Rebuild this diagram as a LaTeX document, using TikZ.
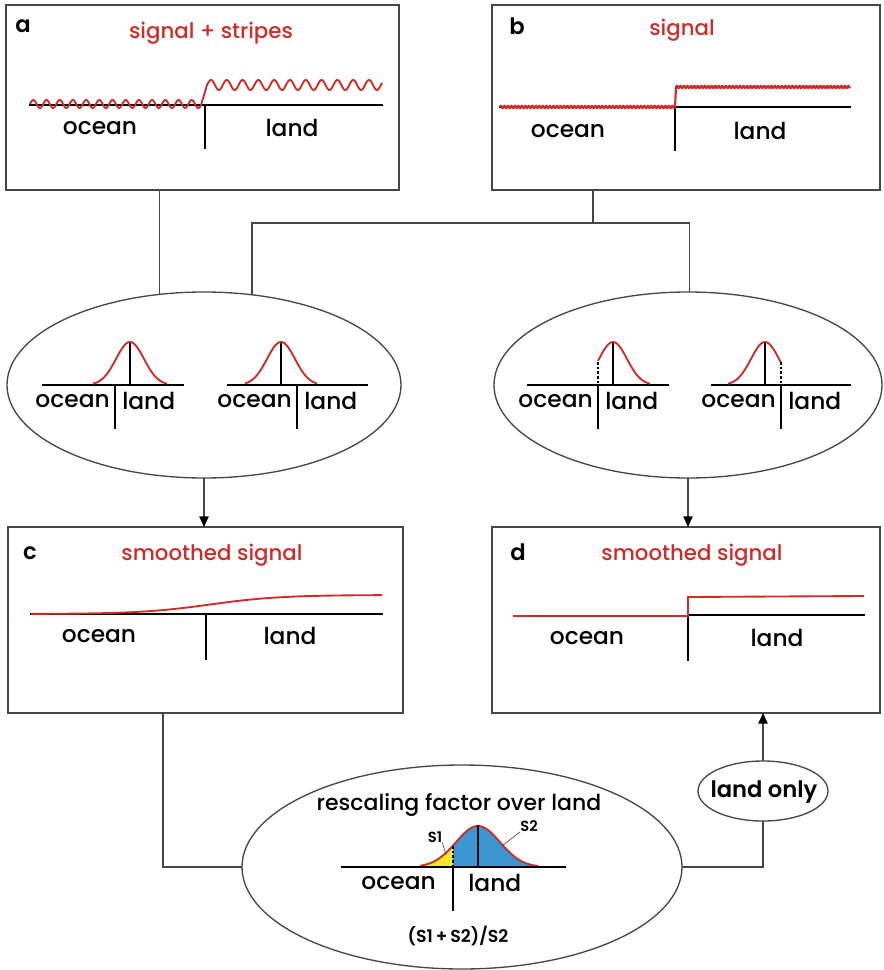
\documentclass[tikz,border=0pt]{standalone}
\usepackage{fontspec}
\setmainfont{Poppins}[UprightFont=* Medium,BoldFont=* SemiBold]
\usetikzlibrary{shapes.geometric,arrows.meta}
\definecolor{sigred}{RGB}{205,45,40}
\definecolor{framegray}{RGB}{70,70,70}
\definecolor{areablue}{RGB}{60,150,210}
\definecolor{areayellow}{RGB}{245,232,40}

\begin{document}
\begin{tikzpicture}[x=0.75pt,y=0.75pt,yscale=-1,xscale=1,
    box/.style={draw=framegray,line width=1.1pt,rectangle,inner sep=0pt,outer sep=0pt},
    oval/.style={draw=framegray,line width=1pt,ellipse,inner sep=0pt,outer sep=0pt},
    link/.style={draw=framegray,line width=1pt},
    arr/.style={link,-{Triangle[length=8pt,width=7pt,color=black]}},
    axis/.style={line width=1.8pt,line cap=rect},
    sig/.style={sigred,line width=1.4pt},
    word/.style={font=\fontsize{17.5}{20}\selectfont,inner sep=0pt},
    head/.style={font=\fontsize{16}{18}\selectfont,text=sigred,inner sep=0pt},
    tag/.style={font=\fontsize{17}{19}\selectfont\bfseries,inner sep=0pt},
    small/.style={font=\fontsize{11}{12}\selectfont\bfseries,inner sep=0pt}]
    \useasboundingbox (0,0) rectangle (884,970);

    % panels
    \node [box,minimum width=294.75pt,minimum height=138.75pt] (boxa) at (202.5,97.5) {};
    \node [box,minimum width=291pt,minimum height=138.75pt] (boxb) at (686,97.5) {};
    \node [box,minimum width=296.25pt,minimum height=139.5pt] (boxc) at (205.5,620) {};
    \node [box,minimum width=291pt,minimum height=139.5pt] (boxd) at (686,620) {};
    % ovals
    \node [oval,minimum width=295.5pt,minimum height=139.5pt] (ellL) at (204,385) {};
    \node [oval,minimum width=291pt,minimum height=139.5pt] (ellR) at (688,385) {};
    \node [oval,minimum width=330pt,minimum height=153pt] (ellB) at (462,867) {};
    \node [oval,minimum width=97.5pt,minimum height=45pt] (only) at (763,791) {};

    % connectors
    \coordinate (split) at (593,223);
    \coordinate (cdown) at (163,713);
    \draw [link] (boxa.south -| ellL.116) -- (ellL.116);
    \draw [link] (boxb.south -| split) -- (split);
    \draw [link] (ellL.62) |- (split) -| (ellR.89);
    \draw [arr] (ellL.south) -- (ellL.south |- boxc.north);
    \draw [arr] (ellR.south) -- (ellR.south |- boxd.north);
    \draw [link] (cdown) |- (ellB.west);
    \draw [link] (ellB.east) -| (only.south);
    \draw [arr] (only.north) -- (only.north |- boxd.south);

    % panel a
    \node [tag] (taga) at (23,26) {a};
    \node [head] (heada) at (211,33) {signal + stripes};
    \draw [axis] (30,105) -- (382,105) (205,105) -- (205,148);
    \draw [sig] plot[domain=30:201,samples=300] (\x,{104-4*sin(27.27*(\x-30))})
        -- (207,85) -- plot[domain=207:382,samples=300] (\x,{85-5*sin(22.78*(\x-207))});
    \node [word] (oceana) at (100,128) {ocean};
    \node [word] (landa) at (292,128) {land};

    % panel b
    \node [tag] (tagb) at (517,26) {b};
    \node [head] (headb) at (682,30) {signal};
    \draw [axis] (500,107) -- (850,107) (675,107) -- (675,150);
    \draw [sig,line width=1.6pt] plot[domain=500:675,samples=400] (\x,{107-1.1*sin(102.86*mod(\x-500,3.5))})
        -- (676,87) -- plot[domain=676:850,samples=400] (\x,{87-1.1*sin(102.86*mod(\x-676,3.5))});
    \node [word] (oceanb) at (568,131) {ocean};
    \node [word] (landb) at (760,131) {land};

    % left oval
    \draw [axis] (43,385) -- (183,385) (115,385) -- (115,428) (130,342) -- (130,385);
    \draw [sig] plot[domain=93:167,samples=80] (\x,{385-43*exp(-((\x-130)/14)*((\x-130)/14)/2)});
    \node [word,anchor=east] (oceanl1) at (110,401) {ocean};
    \node [word,anchor=west] (landl1) at (122,401) {land};
    \draw [axis] (228,385) -- (367,385) (297,385) -- (297,428) (281,342) -- (281,385);
    \draw [sig] plot[domain=245:317,samples=80] (\x,{385-43*exp(-((\x-281)/14)*((\x-281)/14)/2)});
    \node [word,anchor=east] (oceanl2) at (292,401) {ocean};
    \node [word,anchor=west] (landl2) at (304,401) {land};

    % right oval
    \draw [axis] (528,385) -- (668,385) (598,385) -- (598,428) (613,342) -- (613,385);
    \draw [sig] plot[domain=598:650,samples=60] (\x,{385-43*exp(-((\x-613)/14)*((\x-613)/14)/2)});
    \draw [line width=1.5pt,dash pattern=on 2pt off 1.5pt] (598,362) -- (598,385);
    \node [word,anchor=east] (oceanr1) at (593,401) {ocean};
    \node [word,anchor=west] (landr1) at (605,401) {land};
    \draw [axis] (712,385) -- (850,385) (781,385) -- (781,428) (765,342) -- (765,385);
    \draw [sig] plot[domain=728:781,samples=60] (\x,{385-43*exp(-((\x-765)/14)*((\x-765)/14)/2)});
    \draw [line width=1.5pt,dash pattern=on 2pt off 1.5pt] (781,362) -- (781,385);
    \node [word,anchor=east] (oceanr2) at (776,401) {ocean};
    \node [word,anchor=west] (landr2) at (788,401) {land};

    % panel c
    \node [tag] (tagc) at (30,553) {c};
    \node [head] (headc) at (212,555) {smoothed signal};
    \draw [axis] (31,614) -- (382,614) (206,614) -- (206,659);
    \draw [sig] plot[domain=31:382,samples=120] (\x,{614-19/(1+exp(-(\x-210)/35))});
    \node [word] (oceanc) at (99,636) {ocean};
    \node [word] (landc) at (290,636) {land};

    % panel d
    \node [tag] (tagd) at (518,552) {d};
    \node [head] (headd) at (692,555) {smoothed signal};
    \draw [axis] (688,615) -- (864,615) (688,598) -- (688,660);
    \draw [sig] (513,616) -- (688,616) -- (688,597) -- (864,596);
    \node [word] (oceand) at (587,638) {ocean};
    \node [word] (landd) at (777,638) {land};

    % rescaling oval
    \node [word,font=\fontsize{16.5}{19}\selectfont] (rescale) at (459,805) {rescaling factor over land};
    \fill [areayellow] (420,867) -- plot[domain=420:453,samples=40] (\x,{867-41*exp(-((\x-478)/22)*((\x-478)/22)/2)}) -- (453,867) -- cycle;
    \fill [areablue] (453,867) -- plot[domain=453:538,samples=80] (\x,{867-41*exp(-((\x-478)/22)*((\x-478)/22)/2)}) -- (538,867) -- cycle;
    \draw [sig] plot[domain=420:538,samples=120] (\x,{867-41*exp(-((\x-478)/22)*((\x-478)/22)/2)});
    \draw [axis] (342,867) -- (565,867) (453,867) -- (453,910) (478,826) -- (478,867);
    \draw [line width=1.5pt,dash pattern=on 2pt off 1.5pt] (453,846) -- (453,867);
    \node [small] (sone) at (435,837) {S1};
    \node [small] (stwo) at (529,826) {S2};
    \draw [framegray,line width=0.5pt] (sone.south east) -- (446,855);
    \draw [framegray,line width=0.5pt] (stwo.south west) -- (502,846);
    \node [word,anchor=east] (oceanbot) at (436,883) {ocean};
    \node [word,anchor=west] (landbot) at (468,883) {land};
    \node [font=\fontsize{13}{15}\selectfont\bfseries,inner sep=0pt] (ratio) at (458,936) {(S1\,+\,S2)/S2};
    \node [word,font=\fontsize{17}{20}\selectfont\bfseries] (onlytext) at (764,792) {land only};
\end{tikzpicture}
\end{document}
